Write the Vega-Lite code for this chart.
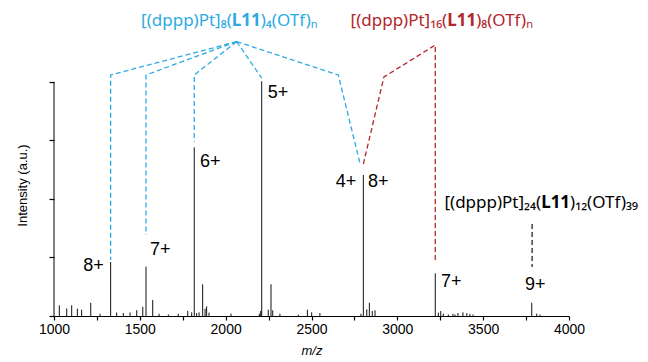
{
  "$schema": "https://vega.github.io/schema/vega-lite/v6.json",
  "width": 515,
  "height": 314,
  "autosize": {"type": "none"},
  "padding": {"left": 54, "top": 2, "right": 79, "bottom": 46},
  "background": "white",
  "config": {"view": {"stroke": null}, "font": "Liberation Sans"},
  "datasets": {
    "peaks": [
      {"mz": 1330, "h": 3.69}, {"mz": 1536, "h": 3.37}, {"mz": 1817, "h": 11.53}, {"mz": 2210, "h": 16.05},
      {"mz": 2802, "h": 9.64}, {"mz": 3221, "h": 2.92}, {"mz": 3783, "h": 0.91},
      {"mz": 1031, "h": 0.73}, {"mz": 1074, "h": 0.52}, {"mz": 1103, "h": 0.73}, {"mz": 1136, "h": 0.5},
      {"mz": 1161, "h": 0.43}, {"mz": 1214, "h": 0.9}, {"mz": 1268, "h": 0.15}, {"mz": 1365, "h": 0.24},
      {"mz": 1404, "h": 0.2}, {"mz": 1443, "h": 0.24}, {"mz": 1482, "h": 0.4}, {"mz": 1517, "h": 0.63},
      {"mz": 1575, "h": 1.1}, {"mz": 1612, "h": 0.15}, {"mz": 1666, "h": 0.1}, {"mz": 1724, "h": 0.15},
      {"mz": 1779, "h": 0.35}, {"mz": 1802, "h": 0.25}, {"mz": 1831, "h": 0.2}, {"mz": 1845, "h": 0.25},
      {"mz": 1866, "h": 2.17}, {"mz": 1880, "h": 0.5}, {"mz": 1889, "h": 0.66}, {"mz": 1903, "h": 0.23},
      {"mz": 2031, "h": 0.16}, {"mz": 2196, "h": 0.16}, {"mz": 2204, "h": 0.34}, {"mz": 2248, "h": 0.43},
      {"mz": 2264, "h": 2.17}, {"mz": 2274, "h": 0.39}, {"mz": 2316, "h": 0.16}, {"mz": 2423, "h": 0.09},
      {"mz": 2476, "h": 0.43}, {"mz": 2501, "h": 0.25}, {"mz": 2549, "h": 0.2}, {"mz": 2788, "h": 0.15},
      {"mz": 2822, "h": 0.46}, {"mz": 2837, "h": 0.91}, {"mz": 2854, "h": 0.34}, {"mz": 2870, "h": 0.39},
      {"mz": 3239, "h": 0.23}, {"mz": 3253, "h": 0.34}, {"mz": 3268, "h": 0.16}, {"mz": 3297, "h": 0.1},
      {"mz": 3324, "h": 0.15}, {"mz": 3336, "h": 0.1}, {"mz": 3353, "h": 0.2}, {"mz": 3382, "h": 0.25},
      {"mz": 3405, "h": 0.2}, {"mz": 3423, "h": 0.15}, {"mz": 3441, "h": 0.1}, {"mz": 3812, "h": 0.16},
      {"mz": 3831, "h": 0.1}
    ],
    "links": [
      {"seg": "b1", "o": 1, "mz": 2064, "y": 18.76, "c": "#2DAAE1"},
      {"seg": "b1", "o": 2, "mz": 1330, "y": 16.48, "c": "#2DAAE1"},
      {"seg": "b1", "o": 3, "mz": 1330, "y": 3.83, "c": "#2DAAE1"},
      {"seg": "b2", "o": 1, "mz": 2064, "y": 18.76, "c": "#2DAAE1"},
      {"seg": "b2", "o": 2, "mz": 1536, "y": 16.48, "c": "#2DAAE1"},
      {"seg": "b2", "o": 3, "mz": 1536, "y": 5.54, "c": "#2DAAE1"},
      {"seg": "b3", "o": 1, "mz": 2064, "y": 18.76, "c": "#2DAAE1"},
      {"seg": "b3", "o": 2, "mz": 1817, "y": 16.48, "c": "#2DAAE1"},
      {"seg": "b3", "o": 3, "mz": 1817, "y": 11.92, "c": "#2DAAE1"},
      {"seg": "b4", "o": 1, "mz": 2064, "y": 18.76, "c": "#2DAAE1"},
      {"seg": "b4", "o": 2, "mz": 2210, "y": 16.27, "c": "#2DAAE1"},
      {"seg": "b5", "o": 1, "mz": 2064, "y": 18.76, "c": "#2DAAE1"},
      {"seg": "b5", "o": 2, "mz": 2656, "y": 16.48, "c": "#2DAAE1"},
      {"seg": "b5", "o": 3, "mz": 2782, "y": 10.46, "c": "#2DAAE1"},
      {"seg": "r1", "o": 1, "mz": 2802, "y": 10.39, "c": "#B3262B"},
      {"seg": "r1", "o": 2, "mz": 2922, "y": 16.34, "c": "#B3262B"},
      {"seg": "r1", "o": 3, "mz": 3221, "y": 18.53, "c": "#B3262B"},
      {"seg": "r1", "o": 4, "mz": 3221, "y": 3.62, "c": "#B3262B"},
      {"seg": "k1", "o": 1, "mz": 3785, "y": 6.29, "c": "#222222"},
      {"seg": "k1", "o": 2, "mz": 3785, "y": 3.35, "c": "#222222"}
    ],
    "charges": [
      {"mz": 1170, "y": 3.45, "t": "8+"},
      {"mz": 1559, "y": 4.51, "t": "7+"},
      {"mz": 1850, "y": 10.56, "t": "6+"},
      {"mz": 2245, "y": 15.23, "t": "5+"},
      {"mz": 2641, "y": 9.13, "t": "4+"},
      {"mz": 2829, "y": 9.13, "t": "8+"},
      {"mz": 3254, "y": 2.32, "t": "7+"},
      {"mz": 3744, "y": 2.12, "t": "9+"}
    ],
    "formulas": [
      {"mz": 2120, "y": 19.85, "l": "[(dppp)Pt]₈(", "b": "L11", "r": ")₄(OTf)ₙ", "c": "#2DAAE1"},
      {"mz": 3375, "y": 19.85, "l": "[(dppp)Pt]₁₆(", "b": "L11", "r": ")₈(OTf)ₙ", "c": "#B3262B"},
      {"mz": 3922, "y": 7.36, "l": "[(dppp)Pt]₂₄(", "b": "L11", "r": ")₁₂(OTf)₃₉", "c": "#000000"}
    ]
  },
  "layer": [
    {
      "data": {"name": "peaks"},
      "mark": {"type": "rule", "color": "#111111", "strokeWidth": 1},
      "encoding": {
        "x": {
          "field": "mz", "type": "quantitative",
          "scale": {"domain": [1000, 4000], "nice": false, "zero": false},
          "axis": {
            "title": "m/z", "titleFontStyle": "italic", "titleFontWeight": "normal", "titleFontSize": 13,
            "titleColor": "#000", "titlePadding": 8,
            "values": [1000, 1250, 1500, 1750, 2000, 2250, 2500, 2750, 3000, 3250, 3500, 3750, 4000],
            "format": "d",
            "labelExpr": "datum.value % 500 === 0 ? datum.label : ''",
            "labelFlush": false, "labelOverlap": false, "labelFontSize": 14, "labelColor": "#000",
            "labelPadding": 2, "tickSize": 4, "tickWidth": 1.2, "tickColor": "#000", "domainColor": "#000", "grid": false
          }
        },
        "y": {
          "field": "h", "type": "quantitative",
          "scale": {"domain": [0, 21.47], "nice": false},
          "axis": {
            "title": "Intensity (a.u.)", "titleFontWeight": "normal", "titleFontSize": 13, "titleColor": "#000",
            "titleX": -32, "titleY": 183, "titleBaseline": "middle", "titleAlign": "center", "titleAngle": -90,
            "values": [0, 1, 2, 3, 4, 5, 6, 7, 8, 9, 10, 11, 12, 13, 14, 15, 16],
            "labels": false, "tickSize": 5, "tickWidth": 1.2, "tickColor": "#000", "domain": false, "grid": false
          }
        },
        "y2": {"datum": 0}
      }
    },
    {
      "data": {"values": [{"mz": 1000, "y0": 0, "y1": 16}]},
      "mark": {"type": "rule", "color": "#000000", "strokeWidth": 1},
      "encoding": {
        "x": {"field": "mz", "type": "quantitative"},
        "y": {"field": "y0", "type": "quantitative"},
        "y2": {"field": "y1"}
      }
    },
    {
      "data": {"name": "links"},
      "mark": {"type": "line", "strokeWidth": 1.3, "strokeDash": [5, 3]},
      "encoding": {
        "x": {"field": "mz", "type": "quantitative"},
        "y": {"field": "y", "type": "quantitative"},
        "detail": {"field": "seg"},
        "order": {"field": "o"},
        "color": {"field": "c", "type": "nominal", "scale": null}
      }
    },
    {
      "data": {"name": "charges"},
      "mark": {"type": "text", "align": "left", "baseline": "middle", "fontSize": 18, "font": "Liberation Sans", "color": "#000"},
      "encoding": {
        "x": {"field": "mz", "type": "quantitative"},
        "y": {"field": "y", "type": "quantitative"},
        "text": {"field": "t"}
      }
    },
    {
      "data": {"name": "formulas"},
      "mark": {"type": "text", "align": "right", "baseline": "alphabetic", "fontSize": 17, "font": "Noto Sans", "dx": -14.5},
      "encoding": {
        "x": {"field": "mz", "type": "quantitative"},
        "y": {"field": "y", "type": "quantitative"},
        "text": {"field": "l"},
        "color": {"field": "c", "type": "nominal", "scale": null}
      }
    },
    {
      "data": {"name": "formulas"},
      "mark": {"type": "text", "align": "center", "baseline": "alphabetic", "fontSize": 17, "font": "Noto Sans", "fontWeight": "bold"},
      "encoding": {
        "x": {"field": "mz", "type": "quantitative"},
        "y": {"field": "y", "type": "quantitative"},
        "text": {"field": "b"},
        "color": {"field": "c", "type": "nominal", "scale": null}
      }
    },
    {
      "data": {"name": "formulas"},
      "mark": {"type": "text", "align": "left", "baseline": "alphabetic", "fontSize": 17, "font": "Noto Sans", "dx": 14.5},
      "encoding": {
        "x": {"field": "mz", "type": "quantitative"},
        "y": {"field": "y", "type": "quantitative"},
        "text": {"field": "r"},
        "color": {"field": "c", "type": "nominal", "scale": null}
      }
    }
  ]
}
